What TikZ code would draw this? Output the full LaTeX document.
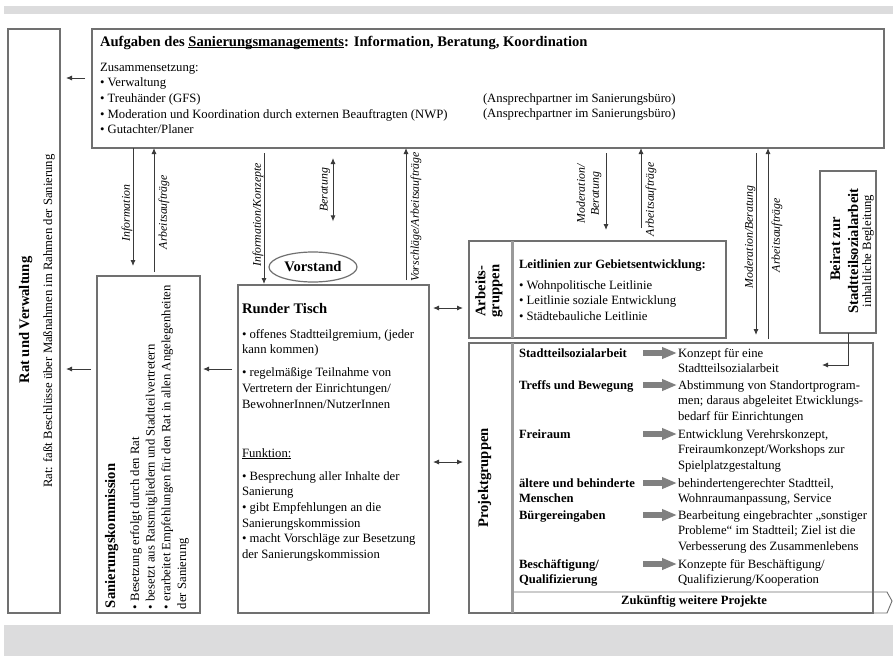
\documentclass[tikz,border=0pt]{standalone}
\usepackage{fontspec}
\setmainfont{Liberation Serif}
\usetikzlibrary{arrows.meta,shapes.geometric}
\definecolor{band}{HTML}{DCDCDD}
\definecolor{boxline}{HTML}{707070}
\definecolor{arrline}{HTML}{3A3A3A}
\definecolor{blockgray}{HTML}{808080}
\definecolor{divgray}{HTML}{9A9A9A}
\newcommand\fbody{\fontsize{12.7}{15.7}\selectfont}
\newcommand\fhead{\fontsize{14.6}{17}\selectfont\bfseries}
\newcommand\fbold{\fontsize{12.6}{15.7}\selectfont\bfseries}
\newcommand\flab{\fontsize{11.8}{14}\selectfont\itshape}
\newlength\bulw
\newcommand\bitem{\par\hangindent=\bulw\hangafter=1\noindent\textbullet\ }
\newcommand\myul[1]{\setbox0\hbox{#1}\rlap{\rule[-1.6pt]{\wd0}{0.6pt}}\box0}
\newcommand\bodybox[2]{\parbox[t]{#1}{\fbody\raggedright\settowidth\bulw{\textbullet\ }\parindent=0pt\parskip=0pt #2}}
\newcommand\boldbox[2]{\parbox[t]{#1}{\fbold\raggedright\parindent=0pt\parskip=0pt #2}}
\tikzset{
  box/.style={draw=boxline, line width=1.3pt, inner sep=0pt, outer sep=0pt, anchor=north west, fill=white},
  arr/.style={draw=arrline, line width=0.9pt, -{Latex[length=6pt,width=5pt]}},
  darr/.style={draw=arrline, line width=0.9pt, {Latex[length=6pt,width=5pt]}-{Latex[length=6pt,width=5pt]}},
  lab/.style={rotate=90, font=\flab, inner sep=0pt},
  txt/.style={anchor=base west, inner sep=0pt, outer sep=0pt},
  divline/.style={draw=divgray, line width=3pt},
  blockarr/.style={draw=blockgray, line width=6pt, -{Triangle[length=15pt,width=11pt]}, shorten >=1pt}
}
\begin{document}
\begin{tikzpicture}[x=1pt,y=-1pt]
\useasboundingbox (0,0) rectangle (893,656);
\fill[white] (0,0) rectangle (893,656);
\fill[band] (4,6) rectangle (893,14);
\fill[band] (4,625) rectangle (893,656);

% boxes
\node[box, minimum width=52pt, minimum height=584pt] (rat) at (8,29) {};
\node[box, minimum width=792pt, minimum height=119pt] (top) at (92,29) {};
\node[box, minimum width=103pt, minimum height=337pt] (sk) at (97,276) {};
\node[box, minimum width=191pt, minimum height=328pt] (rt) at (238,285) {};
\node[box, minimum width=257pt, minimum height=97pt] (ag) at (469,241) {};
\node[box, minimum width=404pt, minimum height=270pt] (pg) at (469,343) {};
\node[box, minimum width=56pt, minimum height=162pt] (beirat) at (820,171) {};
\draw[divline] ([xshift=43pt]ag.north west) -- ([xshift=43pt]ag.south west);
\draw[divline] ([xshift=43pt]pg.north west) -- ([xshift=43pt]pg.south west);

% top box text
\node[txt, font=\fhead] (toptitle) at (100,46) {Aufgaben des \myul{Sanierungsmanagements}: Information, Beratung, Koordination};
\node[txt] (toplist) at (100,71) {\bodybox{400pt}{Zusammensetzung:\bitem Verwaltung\bitem Treuh\"ander (GFS)\bitem Moderation und Koordination durch externen Beauftragten (NWP)\bitem Gutachter/Planer}};
\node[txt] (topans) at (483,102) {\bodybox{300pt}{(Ansprechpartner im Sanierungsb\"uro)\\(Ansprechpartner im Sanierungsb\"uro)}};

% Rat und Verwaltung
\node[rotate=90, anchor=base, inner sep=0pt, font=\fhead] (ratT) at (29,320) {Rat und Verwaltung};
\node[rotate=90, anchor=base, inner sep=0pt, font=\fbody] (ratS) at (52,321) {Rat: fa\ss t Beschl\"usse \"uber Ma\ss nahmen im Rahmen der Sanierung};

% Sanierungskommission
\node[rotate=90, txt, font=\fhead] (skT) at (115,608) {Sanierungskommission};
\node[rotate=90, txt] (skB) at (139,609) {\bodybox{345pt}{\bitem Besetzung erfolgt durch den Rat\bitem besetzt aus Ratsmitgliedern und Stadtteilvertretern\bitem erarbeitet Empfehlungen f\"ur den Rat in allen Angelegenheiten\\der Sanierung}};

% Runder Tisch
\node[txt, font=\fhead] (rtT) at (242,313) {Runder Tisch};
\node[txt] (rtB) at (242,338) {\bodybox{230pt}{\bitem offenes Stadtteilgremium, (jeder\\kann kommen)\par\vspace{7.3pt}\bitem regelm\"a\ss ige Teilnahme von\\Vertretern der Einrichtungen/\\BewohnerInnen/NutzerInnen\par\vspace{33.3pt}\noindent\myul{Funktion:}\par\vspace{7.3pt}\bitem Besprechung aller Inhalte der\\Sanierung\bitem gibt Empfehlungen an die\\Sanierungskommission\bitem macht Vorschl\"age zur Besetzung\\der Sanierungskommission}};

% Vorstand
\node[ellipse, draw=boxline, line width=1.2pt, fill=white, minimum width=88pt, minimum height=30pt, inner sep=0pt, font=\fhead] (vorstand) at (313,267) {Vorstand};

% Arbeitsgruppen
\node[rotate=90, inner sep=0pt, align=center, font={\fontsize{14.6}{14}\selectfont\bfseries}] (agL) at (489,291) {Arbeits-\\gruppen};
\node[txt] (agB) at (519,268) {\bodybox{200pt}{{\fbold Leitlinien zur Gebietsentwicklung:}\par\vspace{5.3pt}\bitem Wohnpolitische Leitlinie\bitem Leitlinie soziale Entwicklung\bitem St\"adtebauliche Leitlinie}};

% Projektgruppen
\node[rotate=90, anchor=base, inner sep=0pt, font=\fhead] (pgL) at (488,478) {Projektgruppen};
\node[txt] (p1) at (519,357) {\boldbox{120pt}{Stadtteilsozialarbeit}};
\node[txt] (p2) at (519,389) {\boldbox{120pt}{Treffs und Bewegung}};
\node[txt] (p3) at (519,438) {\boldbox{120pt}{Freiraum}};
\node[txt] (p4) at (519,487) {\boldbox{120pt}{\"altere und behinderte\\Menschen}};
\node[txt] (p5) at (519,519) {\boldbox{120pt}{B\"urgereingaben}};
\node[txt] (p6) at (519,568) {\boldbox{120pt}{Besch\"aftigung/\\Qualifizierung}};
\node[txt] (r1) at (678,357) {\bodybox{210pt}{Konzept f\"ur eine\\Stadtteilsozialarbeit}};
\node[txt] (r2) at (678,389) {\bodybox{210pt}{Abstimmung von Standortprogram-\\men; daraus abgeleitet Etwicklungs-\\bedarf f\"ur Einrichtungen}};
\node[txt] (r3) at (678,438) {\bodybox{210pt}{Entwicklung Verehrskonzept,\\Freiraumkonzept/Workshops zur\\Spielplatzgestaltung}};
\node[txt] (r4) at (678,487) {\bodybox{210pt}{behindertengerechter Stadtteil,\\Wohnraumanpassung, Service}};
\node[txt] (r5) at (678,519) {\bodybox{210pt}{Bearbeitung eingebrachter „sonstiger\\Probleme“ im Stadtteil; Ziel ist die\\Verbesserung des Zusammenlebens}};
\node[txt] (r6) at (678,568) {\bodybox{210pt}{Konzepte f\"ur Besch\"aftigung/\\Qualifizierung/Kooperation}};
\foreach \r in {r1,r2,r3,r4,r5,r6}{
  \draw[blockarr] ([xshift=-35pt,yshift=4pt]\r.base west) -- ([yshift=4pt]\r.base west);
}
\draw[draw=boxline, line width=0.9pt] (514,592) -- (887,592) -- (892,601) -- (887,613) -- (873,613);
\node[anchor=base, inner sep=0pt, font=\fbold] (zuk) at (694,604) {Zuk\"unftig weitere Projekte};

% Beirat
\node[rotate=90, anchor=base, inner sep=0pt, font=\fhead] (be1) at (840,249) {Beirat zur};
\node[rotate=90, anchor=base, inner sep=0pt, font=\fhead] (be2) at (858,251) {Stadtteilsozialarbeit};
\node[rotate=90, anchor=base, inner sep=0pt, font=\fbody] (be3) at (871,251) {inhaltliche Begleitung};
\coordinate (bend) at (822,365);
\draw[arr] (beirat.south) |- (bend);

% connectors
\draw[arr, shorten <=7pt, shorten >=6pt] (top.west |- 0,78) -- (rat.east |- 0,78);
\draw[arr, shorten <=6pt, shorten >=6pt] (sk.west |- 0,369) -- (rat.east |- 0,369);
\draw[arr, shorten <=6pt, shorten >=3pt] (rt.west |- 0,369) -- (sk.east |- 0,369);
\draw[arr, shorten >=10pt] (top.south -| 133,0) -- (sk.north -| 133,0);
\draw[arr, shorten <=4pt] (sk.north -| 154,0) -- (top.south -| 154,0);
\draw[arr, shorten <=5pt, shorten >=1pt] (top.south -| 264,0) -- (rt.north -| 264,0);
\draw[darr, shorten <=10pt, shorten >=30pt] (top.south -| 333,0) -- (vorstand.north -| 333,0);
\draw[arr, shorten <=5pt] (rt.north -| 406,0) -- (top.south -| 406,0);
\draw[darr, shorten <=4pt, shorten >=6pt] (rt.east |- 0,308) -- (ag.west |- 0,308);
\draw[darr, shorten <=4pt, shorten >=6pt] (rt.east |- 0,462) -- (pg.west |- 0,462);
\draw[arr, shorten <=5pt, shorten >=11pt] (top.south -| 606,0) -- (ag.north -| 606,0);
\draw[arr, shorten <=13pt] (ag.north -| 641,0) -- (top.south -| 641,0);
\draw[arr, shorten <=5pt, shorten >=8pt] (top.south -| 756,0) -- (pg.north -| 756,0);
\draw[arr, shorten <=4pt] (pg.north -| 768,0) -- (top.south -| 768,0);

% connector labels
\node[lab] (l1) at (127,213) {Information};
\node[lab] (l2) at (164,212) {Arbeitsauftr\"age};
\node[lab] (l3) at (258,215) {Information/Konzepte};
\node[lab] (l4) at (325,190) {Beratung};
\node[lab] (l5) at (416,217) {Vorschl\"age/Arbeitsauftr\"age};
\node[lab, align=center] (l6) at (589,194) {Moderation/\\Beratung};
\node[lab] (l7) at (651,199) {Arbeitsauftr\"age};
\node[lab] (l8) at (750,237) {Moderation/Beratung};
\node[lab] (l9) at (777,235) {Arbeitsauftr\"age};
\end{tikzpicture}
\end{document}
